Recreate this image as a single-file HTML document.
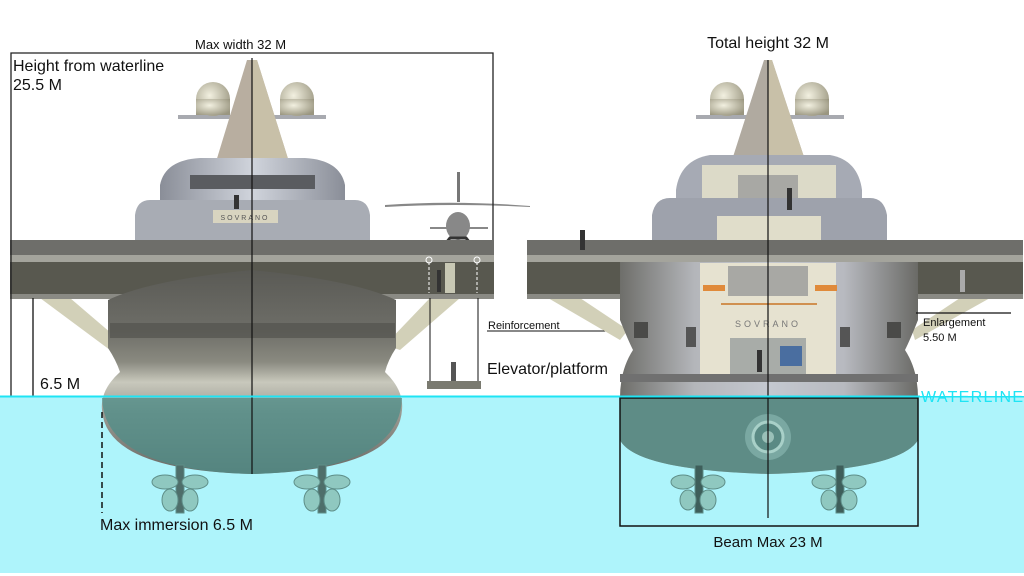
<!DOCTYPE html>
<html><head><meta charset="utf-8"><style>
html,body{margin:0;padding:0;background:#fff;width:1024px;height:576px;overflow:hidden}
svg{display:block}
text{font-family:"Liberation Sans",sans-serif;fill:#111}
</style></head><body>
<svg width="1024" height="576" viewBox="0 0 1024 576" xmlns="http://www.w3.org/2000/svg">
<defs>
<linearGradient id="hull" x1="0" x2="1" y1="0" y2="0">
<stop offset="0" stop-color="#6e6e6a"/><stop offset="0.25" stop-color="#b4b6ba"/><stop offset="0.5" stop-color="#c4c8d0"/><stop offset="0.75" stop-color="#b8bac0"/><stop offset="1" stop-color="#6a6a66"/></linearGradient>
<linearGradient id="hullL" x1="0" x2="0" y1="0" y2="1">
<stop offset="0" stop-color="#5a5a55"/><stop offset="0.3" stop-color="#6e6e68"/><stop offset="0.45" stop-color="#8a8a80"/><stop offset="0.55" stop-color="#c8c8bc"/><stop offset="0.7" stop-color="#9a9a92"/><stop offset="1" stop-color="#6a6a66"/></linearGradient>
<linearGradient id="sup" x1="0" x2="1"><stop offset="0" stop-color="#8a8e98"/><stop offset="0.5" stop-color="#d0d4dc"/><stop offset="1" stop-color="#8a8e98"/></linearGradient>
<radialGradient id="dome" cx="0.4" cy="0.4" r="0.7"><stop offset="0" stop-color="#f2f0e0"/><stop offset="1" stop-color="#9a9680"/></radialGradient>
</defs>

<rect x="0" y="396" width="1024" height="177" fill="#aef4fb"/>

<!-- LEFT SHIP -->
<polygon points="40,298 70,298 125,345 110,350" fill="#d2d0b8"/>
<polygon points="460,298 430,298 385,345 400,350" fill="#d2d0b8"/>
<rect x="178" y="115" width="148" height="4" fill="#a8aab0"/>
<circle cx="213" cy="99" r="17" fill="url(#dome)"/><rect x="196" y="99" width="34" height="16" fill="url(#dome)"/>
<circle cx="297" cy="99" r="17" fill="url(#dome)"/><rect x="280" y="99" width="34" height="16" fill="url(#dome)"/>
<polygon points="247,60 257,60 290,165 215,165" fill="#b8aea0"/>
<polygon points="252,60 257,60 290,165 252,165" fill="#c8c0a8"/>
<path d="M160,185 Q165,160 200,158 L305,158 Q340,160 345,185 L345,210 L160,210Z" fill="url(#sup)"/>
<rect x="190" y="175" width="125" height="14" fill="#5a5c60"/>
<path d="M135,215 Q137,200 150,200 L355,200 Q368,200 370,215 L370,240 L135,240Z" fill="#a8acb4"/>
<rect x="213" y="210" width="65" height="13" fill="#d8d4c0"/>
<text x="245" y="220" font-size="7" text-anchor="middle" letter-spacing="2" style="fill:#555">SOVRANO</text>
<rect x="234" y="195" width="5" height="14" fill="#333"/>
<rect x="457" y="172" width="3" height="30" fill="#777"/>
<path d="M385,205 Q455,200 530,206 L530,207 Q455,203 385,207Z" fill="#888"/>
<ellipse cx="458" cy="226" rx="12" ry="14" fill="#888"/>
<rect x="430" y="227" width="58" height="2" fill="#888"/>
<path d="M442,248 L450,238 L466,238 L474,248" stroke="#333" stroke-width="3" fill="none"/>
<rect x="10" y="240" width="484" height="15" fill="#6e6e6a"/>
<rect x="10" y="255" width="484" height="7" fill="#a4a49c"/>
<rect x="10" y="262" width="484" height="33" fill="#58584f"/>
<rect x="10" y="294" width="484" height="5" fill="#8a8a84"/>
<rect x="445" y="263" width="10" height="30" fill="#c8c8b4"/>
<rect x="437" y="270" width="4" height="22" fill="#333"/>
<path d="M108,300 Q150,280 252,270 Q354,280 396,300 L396,348 Q388,360 385,372 Q404,390 402,410 Q398,470 252,474 Q106,470 102,410 Q100,390 120,372 Q116,360 108,348Z" fill="url(#hullL)"/>
<path d="M102,398 Q104,470 252,474 Q400,470 402,398Z" fill="#4e8e88" opacity="0.75"/>
<rect x="110" y="323" width="285" height="15" fill="#4e4e4a" opacity="0.6"/>
<g fill="#8fc8c0" stroke="#5e8e88"><rect x="176" y="465" width="8" height="48" fill="#4e6e6a"/><ellipse cx="165" cy="482" rx="13" ry="7"/><ellipse cx="195" cy="482" rx="13" ry="7"/><ellipse cx="170" cy="500" rx="8" ry="11"/><ellipse cx="190" cy="500" rx="8" ry="11"/>
<rect x="318" y="465" width="8" height="48" fill="#4e6e6a"/><ellipse cx="307" cy="482" rx="13" ry="7"/><ellipse cx="337" cy="482" rx="13" ry="7"/><ellipse cx="312" cy="500" rx="8" ry="11"/><ellipse cx="332" cy="500" rx="8" ry="11"/></g>
<line x1="430" y1="298" x2="430" y2="381" stroke="#111" stroke-width="1"/>
<line x1="478" y1="298" x2="478" y2="381" stroke="#111" stroke-width="1"/>
<line x1="429" y1="262" x2="429" y2="293" stroke="#fff" stroke-dasharray="3,2"/>
<line x1="477" y1="262" x2="477" y2="293" stroke="#fff" stroke-dasharray="3,2"/>
<circle cx="429" cy="260" r="3" fill="none" stroke="#fff"/><circle cx="477" cy="260" r="3" fill="none" stroke="#fff"/>
<rect x="427" y="381" width="54" height="8" fill="#7a7a70"/>
<rect x="451" y="362" width="5" height="19" fill="#555"/>
<polyline points="11,396 11,53 493,53 493,240" fill="none" stroke="#222" stroke-width="1.3"/>
<line x1="33" y1="298" x2="33" y2="396" stroke="#111" stroke-width="1.3"/>
<line x1="252" y1="58" x2="252" y2="474" stroke="#111" stroke-width="1.2"/>
<line x1="102" y1="412" x2="102" y2="513" stroke="#111" stroke-width="1.5" stroke-dasharray="6,4"/>
<text x="195" y="49" font-size="13">Max width 32 M</text>
<text x="13" y="71" font-size="16">Height from waterline</text>
<text x="13" y="90" font-size="16">25.5 M</text>
<text x="40" y="389" font-size="16">6.5 M</text>
<text x="100" y="530" font-size="16">Max immersion 6.5 M</text>
<text x="487" y="374" font-size="16">Elevator/platform</text>
<text x="488" y="329" font-size="11">Reinforcement</text>
<line x1="487" y1="331" x2="620" y2="331" stroke="#111"/>
<line x1="575" y1="310" x2="620" y2="330" stroke="#111"/>

<!-- RIGHT SHIP -->
<polygon points="548,298 580,298 628,330 620,340" fill="#d2d0b8"/>
<polygon points="990,298 960,298 912,330 915,340" fill="#d2d0b8"/>
<rect x="696" y="115" width="148" height="4" fill="#a8aab0"/>
<circle cx="727" cy="99" r="17" fill="url(#dome)"/><rect x="710" y="99" width="34" height="16" fill="url(#dome)"/>
<circle cx="812" cy="99" r="17" fill="url(#dome)"/><rect x="795" y="99" width="34" height="16" fill="url(#dome)"/>
<polygon points="764,60 772,60 805,160 732,160" fill="#b0aaa0"/>
<polygon points="768,60 772,60 805,160 768,160" fill="#c8c0a8"/>
<path d="M676,190 Q680,160 710,155 L830,155 Q858,160 862,190 L862,215 L676,215Z" fill="#a6aab4"/>
<rect x="702" y="165" width="134" height="50" fill="#dcdac8"/>
<rect x="738" y="175" width="60" height="30" fill="#a8a8a4"/>
<rect x="702" y="201" width="134" height="12" fill="#9a9a94"/>
<path d="M652,215 Q655,198 670,198 L870,198 Q884,198 887,215 L887,240 L652,240Z" fill="#9ea2ac"/>
<rect x="717" y="216" width="104" height="24" fill="#e0ddca"/>
<rect x="787" y="188" width="5" height="22" fill="#333"/>
<rect x="527" y="240" width="496" height="15" fill="#6e6e6a"/>
<rect x="527" y="255" width="496" height="7" fill="#a4a49c"/>
<rect x="527" y="262" width="496" height="33" fill="#58584f"/>
<rect x="527" y="294" width="496" height="5" fill="#8a8a84"/>
<rect x="580" y="230" width="5" height="20" fill="#333"/>
<path d="M620,262 L918,262 L918,320 Q910,340 905,350 Q918,370 918,398 L918,440 Q900,470 768,474 Q636,470 620,440 L620,398 Q620,370 633,350 Q628,340 620,320Z" fill="url(#hull)"/>
<path d="M620,398 L918,398 L918,440 Q900,470 768,474 Q636,470 620,440Z" fill="#5e8c86"/>
<rect x="700" y="263" width="136" height="112" fill="#e6e2d0"/>
<rect x="728" y="266" width="80" height="30" fill="#a8a8a4"/>
<rect x="703" y="285" width="22" height="6" fill="#e08a3a"/><rect x="815" y="285" width="22" height="6" fill="#e08a3a"/>
<rect x="721" y="303" width="96" height="2" fill="#d09050"/>
<text x="768" y="327" font-size="9" text-anchor="middle" letter-spacing="3" style="fill:#777">SOVRANO</text>
<rect x="730" y="338" width="76" height="36" fill="#a8aca8"/>
<rect x="780" y="346" width="22" height="20" fill="#4a6ea0"/>
<rect x="757" y="350" width="5" height="22" fill="#333"/>
<rect x="634" y="322" width="14" height="16" fill="#4a4a48"/><rect x="887" y="322" width="14" height="16" fill="#4a4a48"/>
<rect x="686" y="327" width="10" height="20" fill="#555"/><rect x="840" y="327" width="10" height="20" fill="#555"/>
<rect x="620" y="374" width="298" height="8" fill="#707070"/>
<circle cx="768" cy="437" r="23" fill="#7aa8a2"/><circle cx="768" cy="437" r="15" fill="#5a8a84" stroke="#a8d0c8" stroke-width="3"/><circle cx="768" cy="437" r="6" fill="#9ac0b8"/>
<g fill="#8fc8c0" stroke="#5e8e88"><rect x="695" y="465" width="8" height="48" fill="#3e5e5a"/><ellipse cx="683" cy="482" rx="12" ry="7"/><ellipse cx="713" cy="482" rx="12" ry="7"/><ellipse cx="688" cy="500" rx="8" ry="10"/><ellipse cx="708" cy="500" rx="8" ry="10"/>
<rect x="836" y="465" width="8" height="48" fill="#3e5e5a"/><ellipse cx="824" cy="482" rx="12" ry="7"/><ellipse cx="854" cy="482" rx="12" ry="7"/><ellipse cx="829" cy="500" rx="8" ry="10"/><ellipse cx="849" cy="500" rx="8" ry="10"/></g>
<rect x="620" y="398" width="298" height="128" fill="none" stroke="#111" stroke-width="1.5"/>
<line x1="768" y1="60" x2="768" y2="518" stroke="#111" stroke-width="1.2"/>
<rect x="960" y="270" width="5" height="22" fill="#aaa"/>
<line x1="916" y1="313" x2="1011" y2="313" stroke="#111" stroke-width="1.2"/>
<text x="923" y="326" font-size="11">Enlargement</text>
<text x="923" y="341" font-size="11">5.50 M</text>
<text x="768" y="48" font-size="16" text-anchor="middle">Total height 32 M</text>
<text x="768" y="547" font-size="15" text-anchor="middle">Beam Max 23 M</text>

<line x1="0" y1="396.5" x2="1024" y2="396.5" stroke="#1ee4f4" stroke-width="2"/>
<rect x="920" y="386" width="104" height="10" fill="#fff"/>
<text x="921" y="402" font-size="16" textLength="102" style="fill:#1ee4f4">WATERLINE</text>
</svg>
</body></html>
